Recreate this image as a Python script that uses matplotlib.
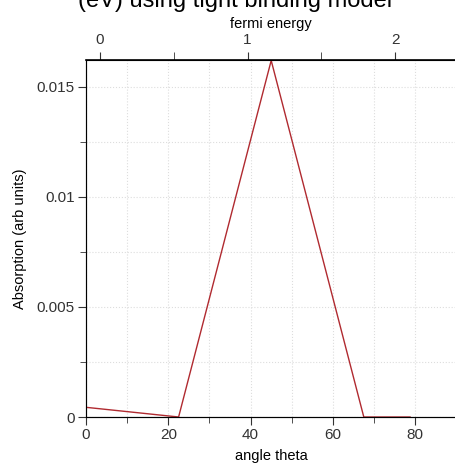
import matplotlib
matplotlib.use("Agg")
import matplotlib.pyplot as plt
from matplotlib.ticker import MultipleLocator, FuncFormatter

plt.rcParams['font.family'] = ['Liberation Sans', 'DejaVu Sans']

theta = [0, 22.5, 45, 67.5, 78.75]
absorption = [0.00044, 0.0, 0.0162, 0.0, 0.0]

fig = plt.figure(figsize=(4.55, 4.65), dpi=100)
ax = fig.add_axes([86 / 455, 48 / 465, 370.4 / 455, 356.5 / 465])

ax.plot(theta, absorption, color='#b02a30', lw=1.0)
ax.set_xlim(0, 90)
ax.set_ylim(0, 0.0162)

ax.xaxis.set_major_locator(MultipleLocator(20))
ax.xaxis.set_minor_locator(MultipleLocator(10))
ax.yaxis.set_major_locator(MultipleLocator(0.005))
ax.yaxis.set_minor_locator(MultipleLocator(0.0025))
ax.yaxis.set_major_formatter(FuncFormatter(lambda v, p: '0' if v == 0 else ('%g' % v)))

ax.grid(True, which='both', color='#dddddd', linestyle=':', linewidth=0.8)
ax.tick_params(which='major', length=6, direction='out', labelsize=11, colors='#333333', pad=2)
ax.tick_params(which='minor', length=4, direction='out', colors='#333333')

ax.spines['right'].set_visible(False)
ax.spines['left'].set_color('#555555')
ax.spines['bottom'].set_color('#333333')

ax.set_xlabel('angle theta', fontsize=10.5, labelpad=5)
ax.set_ylabel('Absorption (arb units)', fontsize=10.5, labelpad=7)

top = ax.twiny()
top.set_xlim(-0.095, 2.416)
top.xaxis.set_major_locator(MultipleLocator(1))
top.xaxis.set_minor_locator(MultipleLocator(0.5))
top.tick_params(which='major', length=6, direction='out', labelsize=11, colors='#333333', pad=4)
top.tick_params(which='minor', length=6, direction='out', colors='#333333')
top.spines['top'].set_color('black')
top.spines['top'].set_linewidth(1.2)
top.spines['right'].set_visible(False)
top.set_xlabel('fermi energy', fontsize=10.5, labelpad=3)

fig.text(235 / 455, 1 - 7 / 465, '(eV) using tight binding model', fontsize=17,
         ha='center', va='baseline')

fig.savefig('out.png', dpi=100)
